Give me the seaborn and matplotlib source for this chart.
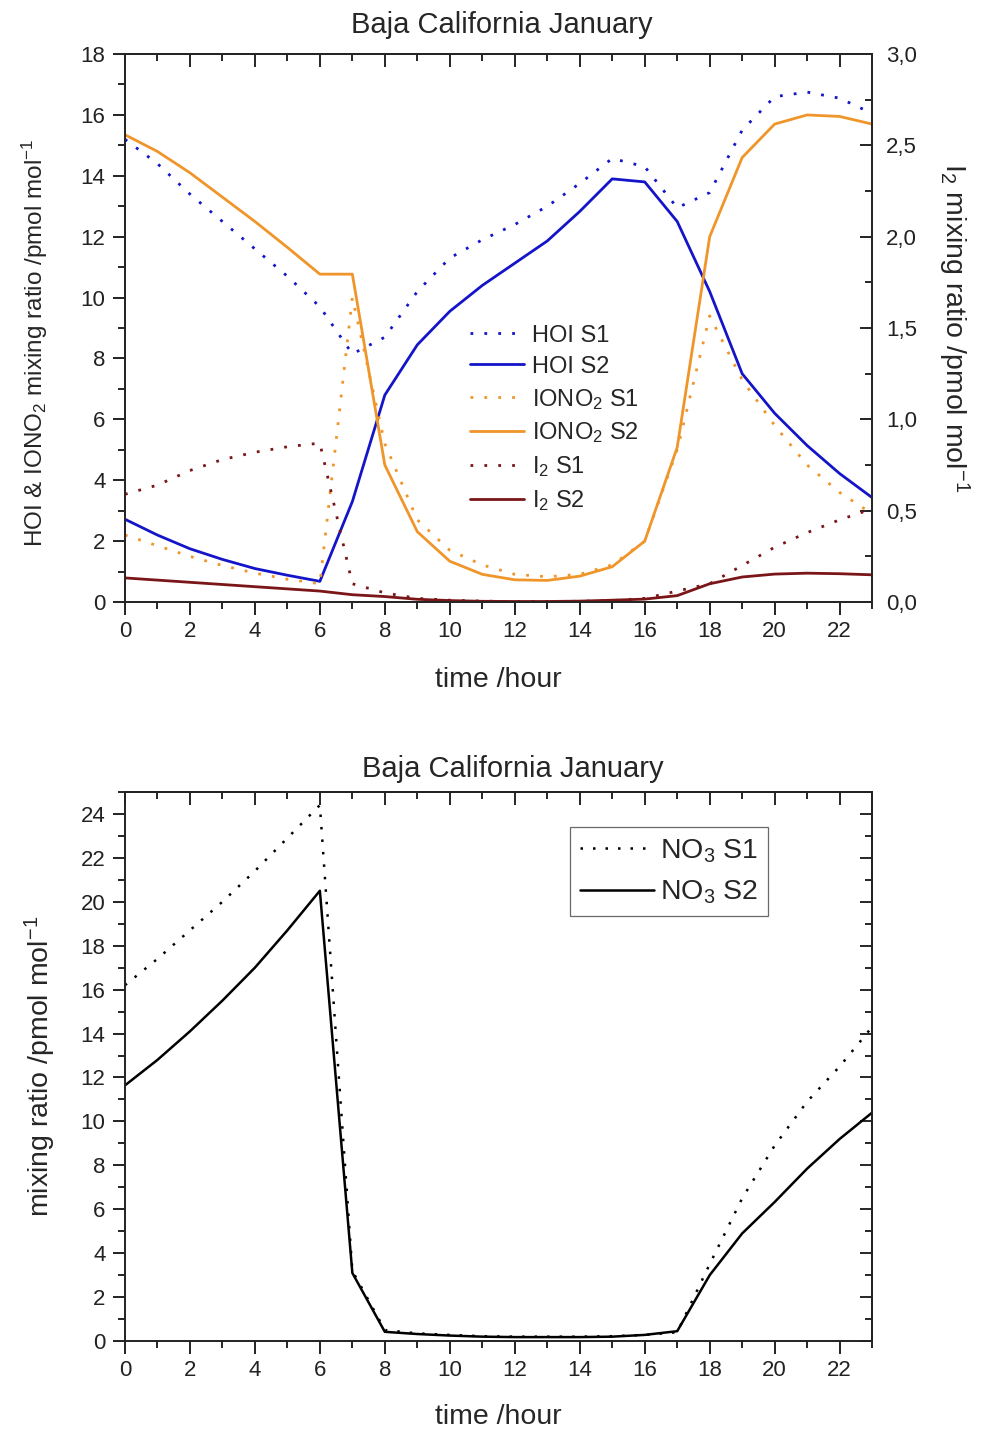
import matplotlib
matplotlib.use("Agg")
import matplotlib.pyplot as plt
import seaborn as sns
import numpy as np
import pandas as pd
from matplotlib.ticker import MultipleLocator, FuncFormatter

# ---------------- data ----------------
hours = list(range(24))

hoi_s1 = [15.2, 14.4, 13.4, 12.5, 11.6, 10.7, 9.7, 8.15, 8.7, 10.2, 11.3, 11.9,
          12.4, 13.0, 13.75, 14.57, 14.3, 12.95, 13.45, 15.5, 16.6, 16.75, 16.55, 16.05]
hoi_s2 = [2.72, 2.2, 1.75, 1.4, 1.1, 0.88, 0.68, 3.3, 6.8, 8.45, 9.55, 10.4,
          11.13, 11.86, 12.83, 13.9, 13.8, 12.5, 10.2, 7.5, 6.2, 5.14, 4.22, 3.43]
iono2_s1 = [2.2, 1.85, 1.5, 1.2, 0.95, 0.75, 0.6, 10.0, 5.2, 2.7, 1.7, 1.22,
            0.91, 0.83, 0.91, 1.22, 2.0, 5.0, 9.4, 7.3, 5.8, 4.5, 3.6, 2.9]
iono2_s2 = [15.35, 14.8, 14.1, 13.3, 12.5, 11.65, 10.77, 10.77, 4.5, 2.31, 1.34, 0.91,
            0.73, 0.71, 0.85, 1.16, 2.0, 5.08, 12.0, 14.6, 15.7, 16.0, 15.95, 15.7]
i2_s1 = [0.59, 0.64, 0.72, 0.78, 0.82, 0.85, 0.87, 0.1, 0.05, 0.02, 0.01, 0.005,
         0.003, 0.003, 0.004, 0.008, 0.02, 0.06, 0.1, 0.2, 0.3, 0.38, 0.45, 0.51]
i2_s2 = [0.132, 0.12, 0.108, 0.096, 0.084, 0.072, 0.06, 0.04, 0.03, 0.015, 0.008, 0.004,
         0.003, 0.003, 0.005, 0.01, 0.016, 0.035, 0.1, 0.137, 0.153, 0.158, 0.155, 0.149]

no3_s1 = [16.2, 17.4, 18.7, 20.0, 21.4, 22.9, 24.4, 3.2, 0.5, 0.35, 0.28, 0.22,
          0.2, 0.2, 0.2, 0.22, 0.28, 0.4, 3.5, 6.5, 8.9, 10.9, 12.5, 14.3]
no3_s2 = [11.64, 12.8, 14.1, 15.5, 17.0, 18.7, 20.5, 3.1, 0.42, 0.32, 0.25, 0.2,
          0.18, 0.18, 0.18, 0.2, 0.28, 0.45, 3.0, 4.9, 6.33, 7.85, 9.2, 10.4]

title_text = "Baja California January"

# ---------------- style ----------------
sns.set_style("ticks")
plt.rcParams['font.family'] = ['Liberation Sans', 'DejaVu Sans']
plt.rcParams['mathtext.fontset'] = 'custom'
plt.rcParams['mathtext.rm'] = 'Liberation Sans'
plt.rcParams['mathtext.it'] = 'Liberation Sans:italic'
plt.rcParams['mathtext.bf'] = 'Liberation Sans:bold'
plt.rcParams['axes.linewidth'] = 1.4

BLUE = '#1414c8'
ORANGE = '#f0952a'
DRED = '#7a1518'
DOT = (0, (1, 4))

TICK_FS = 16
LABEL_FS = 20.5
TITLE_FS = 21
MAJ, MIN = 9, 5

fig = plt.figure(figsize=(9.87, 14.3), dpi=100)
ax1 = fig.add_axes([0.1266, 0.579, 0.757, 0.3832])
ax2 = fig.add_axes([0.1266, 0.0622, 0.757, 0.384])

df = pd.DataFrame({'hour': hours, 'hoi_s1': hoi_s1, 'hoi_s2': hoi_s2,
                   'iono2_s1': iono2_s1, 'iono2_s2': iono2_s2,
                   'i2_s1': i2_s1, 'i2_s2': i2_s2,
                   'no3_s1': no3_s1, 'no3_s2': no3_s2})

def style_axis(ax, ymax, ymajor, yminor):
    ax.set_xlim(0, 23)
    ax.set_ylim(0, ymax)
    ax.xaxis.set_major_locator(MultipleLocator(2))
    ax.xaxis.set_minor_locator(MultipleLocator(1))
    ax.yaxis.set_major_locator(MultipleLocator(ymajor))
    ax.yaxis.set_minor_locator(MultipleLocator(yminor))
    ax.tick_params(axis='both', which='major', direction='out', length=MAJ, width=1.4,
                   labelsize=TICK_FS, top=False, right=False, colors='#222222', pad=5)
    ax.tick_params(axis='both', which='minor', direction='out', length=MIN, width=1.4,
                   top=False, right=False)
    for s in ax.spines.values():
        s.set_visible(True)
        s.set_color('#222222')
    sec = ax.secondary_xaxis('top')
    sec.xaxis.set_major_locator(MultipleLocator(2))
    sec.xaxis.set_minor_locator(MultipleLocator(1))
    sec.tick_params(axis='x', which='major', direction='in', length=MAJ, width=1.4, labeltop=False)
    sec.tick_params(axis='x', which='minor', direction='in', length=MIN, width=1.4)
    sec.spines['top'].set_linewidth(1.4)
    return sec

# ---------------- top panel ----------------
sns.lineplot(data=df, x='hour', y='hoi_s1', ax=ax1, color=BLUE, lw=2, linestyle=DOT, label='HOI S1')
sns.lineplot(data=df, x='hour', y='hoi_s2', ax=ax1, color=BLUE, lw=2, label='HOI S2')
sns.lineplot(data=df, x='hour', y='iono2_s1', ax=ax1, color=ORANGE, lw=2, linestyle=DOT,
             label=r'IONO$_\mathregular{2}$ S1')
sns.lineplot(data=df, x='hour', y='iono2_s2', ax=ax1, color=ORANGE, lw=2,
             label=r'IONO$_\mathregular{2}$ S2')
ax1r = ax1.twinx()
sns.lineplot(data=df, x='hour', y='i2_s1', ax=ax1r, color=DRED, lw=2, linestyle=DOT,
             label=r'I$_\mathregular{2}$ S1')
sns.lineplot(data=df, x='hour', y='i2_s2', ax=ax1r, color=DRED, lw=2,
             label=r'I$_\mathregular{2}$ S2')

style_axis(ax1, 18, 2, 1)
ax1r.set_ylim(0, 3)
ax1r.yaxis.set_major_locator(MultipleLocator(0.5))
ax1r.yaxis.set_minor_locator(MultipleLocator(0.25))
ax1r.yaxis.set_major_formatter(FuncFormatter(lambda v, p: f"{v:.1f}".replace('.', ',')))
ax1r.tick_params(axis='y', which='major', direction='in', length=MAJ, width=1.4, labelsize=TICK_FS,
                 colors='#222222', pad=10)
ax1r.tick_params(axis='y', which='minor', direction='in', length=MIN, width=1.4)
ax1r.set_ylabel(r'I$_\mathregular{2}$ mixing ratio /pmol mol$^\mathregular{-1}$',
                fontsize=LABEL_FS, rotation=270, labelpad=39)
ax1.set_xlabel('time /hour', fontsize=LABEL_FS, labelpad=18)
ax1.set_ylabel(r'HOI & IONO$_\mathregular{2}$ mixing ratio /pmol mol$^\mathregular{-1}$',
               fontsize=17.5)
ax1.yaxis.set_label_coords(-0.1, 0.473)
ax1.set_title(title_text, fontsize=TITLE_FS, pad=15, x=0.505)

h1, l1 = ax1.get_legend_handles_labels()
h2, l2 = ax1r.get_legend_handles_labels()
if ax1r.get_legend():
    ax1r.get_legend().remove()
ax1.legend(h1 + h2, l1 + l2, loc='upper left', bbox_to_anchor=(0.462, 0.506), frameon=False,
           fontsize=17, handlelength=2.3, handletextpad=0.3, labelspacing=0.38,
           borderpad=0, borderaxespad=0)

# ---------------- bottom panel ----------------
sns.lineplot(data=df, x='hour', y='no3_s1', ax=ax2, color='black', lw=1.8, linestyle=DOT,
             label=r'NO$_\mathregular{3}$ S1')
sns.lineplot(data=df, x='hour', y='no3_s2', ax=ax2, color='black', lw=1.8,
             label=r'NO$_\mathregular{3}$ S2')
style_axis(ax2, 25, 2, 1)
axr2 = ax2.secondary_yaxis('right')
axr2.yaxis.set_major_locator(MultipleLocator(2))
axr2.yaxis.set_minor_locator(MultipleLocator(1))
axr2.tick_params(axis='y', which='major', direction='in', length=MAJ, width=1.4, labelright=False)
axr2.tick_params(axis='y', which='minor', direction='in', length=MIN, width=1.4)
axr2.spines['right'].set_linewidth(1.4)
ax2.set_xlabel('time /hour', fontsize=LABEL_FS, labelpad=16)
ax2.set_ylabel(r'mixing ratio /pmol mol$^\mathregular{-1}$', fontsize=LABEL_FS, labelpad=16)
ax2.set_title(title_text, fontsize=TITLE_FS, pad=11, x=0.519)
leg2 = ax2.legend(loc='upper left', bbox_to_anchor=(0.596, 0.936), frameon=True, fancybox=False,
                  fontsize=20.5, handlelength=2.6, handletextpad=0.2, labelspacing=0.5,
                  borderpad=0.35, borderaxespad=0, edgecolor='#444444')
leg2.get_frame().set_linewidth(0.9)

fig.savefig('out.png', dpi=100)
